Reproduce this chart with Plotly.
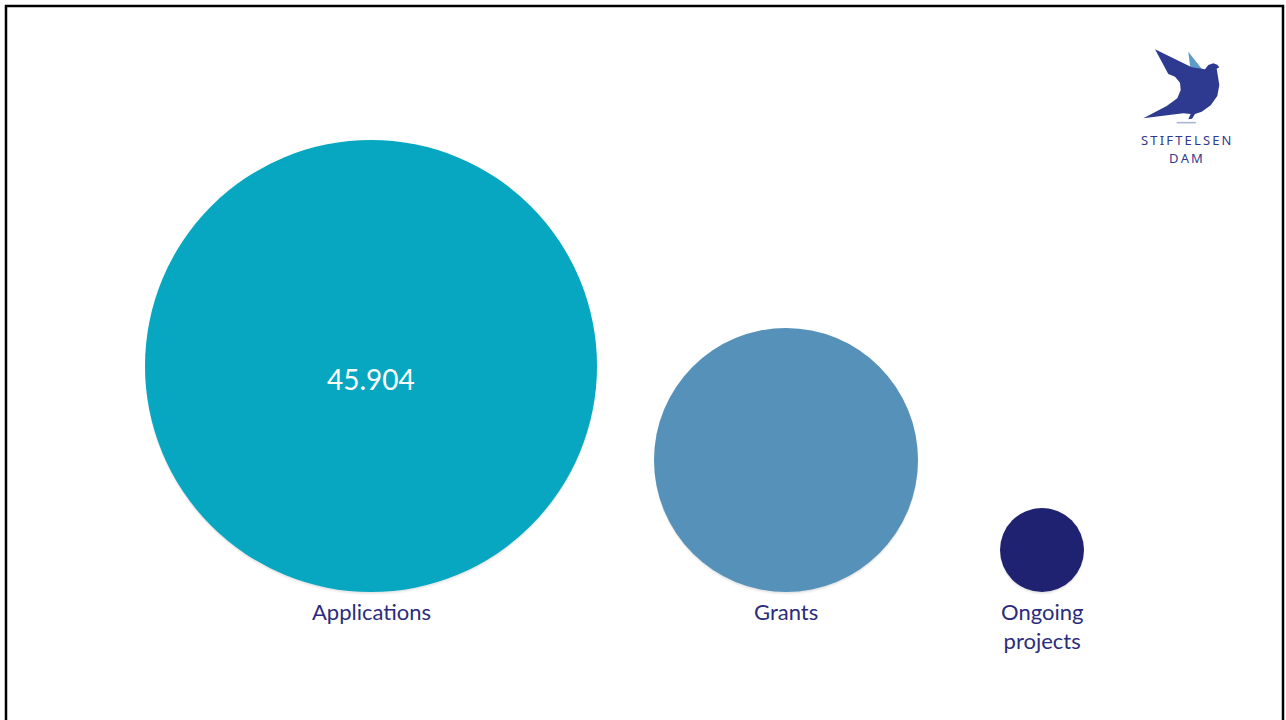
import plotly.graph_objects as go
import math

# ---- data ----
categories = ["Applications", "Grants", "Ongoing<br>projects"]
values = [45904, 15660, 1585]
value_labels = ["45.904", "", ""]

# ---- layout / style constants ----
W, H = 1286, 720
x_slots = [371, 786, 1042]          # horizontal slot for each bubble
baseline = 592                       # bubbles rest on this line (px from top)
max_diameter = 452                   # px diameter of largest bubble
colors = ["#07A7C1", "#5591B8", "#1F2270"]
label_color = "#2B2C7C"
logo_dark = "#2E3A8F"
logo_light = "#5E9CC6"

# plotly 'area' sizemode: diameter_px = sqrt(2 * v / sizeref)
sizeref = 2 * max(values) / max_diameter ** 2
diam = [math.sqrt(2 * v / sizeref) for v in values]
cy = [baseline - d / 2 for d in diam]

fig = go.Figure()

# soft shadow
for off, a in [(3.0, 0.05), (1.5, 0.08)]:
    fig.add_trace(go.Scatter(
        x=x_slots, y=[c + off for c in cy], mode="markers",
        marker=dict(size=values, sizemode="area", sizeref=sizeref,
                    color=f"rgba(0,0,0,{a})", line=dict(width=0)),
        hoverinfo="skip", showlegend=False))

fig.add_trace(go.Scatter(
    x=x_slots, y=cy, mode="markers",
    marker=dict(size=values, sizemode="area", sizeref=sizeref,
                color=colors, line=dict(width=0), opacity=1),
    showlegend=False, hoverinfo="skip"))

annotations = []
for x, y, t in zip(x_slots, cy, value_labels):
    if t:
        annotations.append(dict(x=x, y=y, xref="x", yref="y", text=t, showarrow=False,
                                yshift=-13,
                                font=dict(family="Lato", size=28, color="white")))
for x, c in zip(x_slots, categories):
    annotations.append(dict(x=x, y=baseline, xref="x", yref="y", text=c,
                            showarrow=False, yanchor="top", xanchor="center",
                            yshift=-4, align="center",
                            font=dict(family="Lato", size=22, color=label_color)))

# logo text
sp = "\u2009"
annotations.append(dict(x=1186, y=140, xref="x", yref="y", text=sp.join("STIFTELSEN"),
                        showarrow=False, font=dict(family="Noto Sans", size=13, color=logo_dark)))
annotations.append(dict(x=1186, y=158, xref="x", yref="y", text=sp.join("DAM"),
                        showarrow=False, font=dict(family="Noto Sans", size=13, color=logo_dark)))


def P(pts):
    s = ""
    for i, (zx, zy) in enumerate(pts):
        X = 1120 + zx / 3
        Y = 30 + zy / 3
        s += ("M" if i == 0 else "L") + f"{X:.1f},{Y:.1f} "
    return s + "Z"


light_wing = [(205, 65), (250, 122), (212, 124)]
body = [(105, 58), (215, 112), (255, 118), (265, 105), (280, 100), (292, 104),
        (298, 112), (290, 116), (293, 135), (298, 165), (292, 198), (272, 226),
        (245, 245), (225, 252), (216, 266), (205, 268), (212, 252), (190, 250),
        (70, 265), (140, 228), (172, 205), (182, 180), (180, 158), (165, 140), (145, 132)]
shapes = [
    dict(type="path", path=P(light_wing), xref="x", yref="y",
         fillcolor=logo_light, line=dict(width=0), layer="above"),
    dict(type="path", path=P(body), xref="x", yref="y",
         fillcolor=logo_dark, line=dict(width=0), layer="above"),
    dict(type="line", x0=1120 + 170 / 3, x1=1120 + 228 / 3, y0=30 + 278 / 3, y1=30 + 278 / 3,
         xref="x", yref="y", line=dict(color="#A9B3D6", width=1.5)),
    # frame
    dict(type="rect", x0=6, x1=1283, y0=6, y1=760, xref="x", yref="y",
         line=dict(color="black", width=2.5), fillcolor="rgba(0,0,0,0)"),
]

fig.update_layout(
    width=W, height=H, margin=dict(l=0, r=0, t=0, b=0),
    paper_bgcolor="white", plot_bgcolor="white",
    xaxis=dict(range=[0, W], visible=False, fixedrange=True),
    yaxis=dict(range=[H, 0], visible=False, fixedrange=True),
    annotations=annotations, shapes=shapes, showlegend=False,
)

fig.write_html("out.html", config={"displayModeBar": False})
